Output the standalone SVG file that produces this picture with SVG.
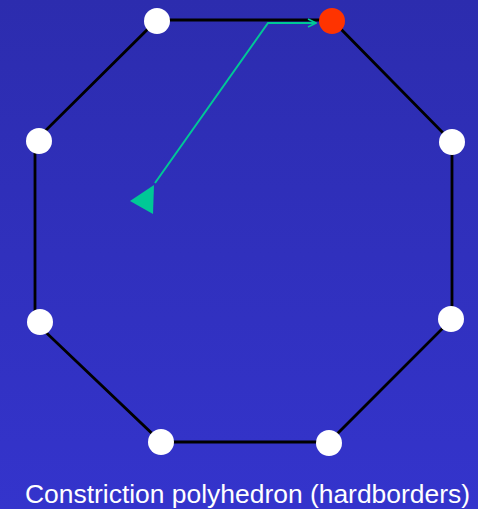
<svg xmlns="http://www.w3.org/2000/svg" width="478" height="509" viewBox="0 0 478 509">
<defs>
<linearGradient id="bg" x1="0" y1="0" x2="0" y2="1">
<stop offset="0" stop-color="#2c2cae"/>
<stop offset="1" stop-color="#3434cc"/>
</linearGradient>
<marker id="open" viewBox="0 0 10 10" refX="9" refY="5" markerWidth="10" markerHeight="10" markerUnits="userSpaceOnUse" orient="auto">
<path d="M1,1 L9,5 L1,9" fill="none" stroke="#00c896" stroke-width="1.6"/>
</marker>
</defs>
<style>
.node{fill:#ffffff}
.edge{fill:none;stroke:#000000;stroke-width:2.8}
.green{fill:none;stroke:#00c896;stroke-width:2}
.label{font-family:"Liberation Sans",Arial,sans-serif;font-size:26px;fill:#ffffff}
</style>
<rect width="478" height="509" fill="url(#bg)"/>
<g id="connectors">
<polygon class="edge" points="157,20 332,20 452,142 452,319 329,442 161,442 35,322 35,141"/>
<polyline class="green" points="155,183 268,23 316,23" marker-end="url(#open)"/>
<polygon points="130,201 154,185 153,214" fill="#00c896"/>
</g>
<g id="n1"><circle class="node" cx="157" cy="21" r="13"/></g>
<g id="n2"><circle cx="332" cy="21" r="13" fill="#ff3300"/></g>
<g id="n3"><circle class="node" cx="452" cy="142" r="13"/></g>
<g id="n4"><circle class="node" cx="451" cy="319" r="13"/></g>
<g id="n5"><circle class="node" cx="329" cy="443" r="13"/></g>
<g id="n6"><circle class="node" cx="161" cy="442" r="13"/></g>
<g id="n7"><circle class="node" cx="40" cy="322" r="13"/></g>
<g id="n8"><circle class="node" cx="39" cy="141" r="13"/></g>
<text class="label" x="25" y="503" textLength="445" lengthAdjust="spacingAndGlyphs">Constriction polyhedron (hardborders)</text>
</svg>
